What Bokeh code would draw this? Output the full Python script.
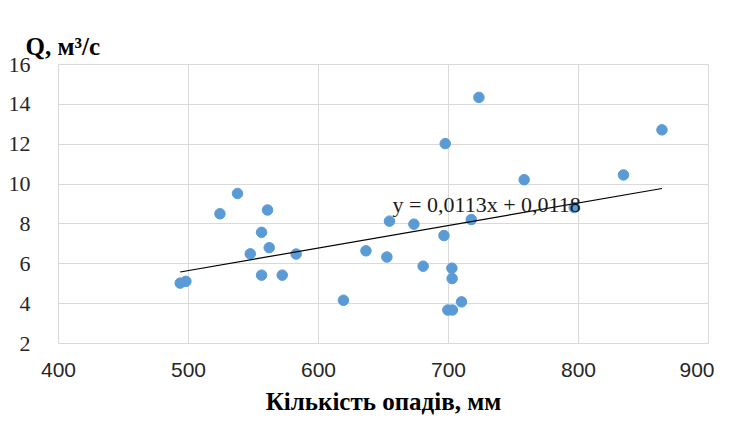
from bokeh.plotting import figure
from bokeh.models import Label, Range1d, FixedTicker, Title
from bokeh.embed import file_html
from bokeh.resources import INLINE

# Data
precip_mm = [493.6, 498.0, 537.7, 524.2, 560.8, 556.2, 562.1, 547.5, 582.8, 556.2,
             572.1, 619.2, 723.4, 697.5, 758.2, 654.6, 673.4, 717.5, 696.5, 636.5,
             652.6, 680.5, 702.6, 702.8, 710.0, 699.5, 703.0, 864.2, 834.6, 796.7]
flow_q = [5.03, 5.12, 9.53, 8.51, 8.70, 7.58, 6.81, 6.50, 6.49, 5.43,
          5.43, 4.17, 14.35, 12.03, 10.22, 8.14, 7.99, 8.22, 7.42, 6.65,
          6.34, 5.88, 5.78, 5.26, 4.09, 3.68, 3.68, 12.72, 10.46, 8.82]
trend_slope = 0.0113
trend_intercept = 0.0118
x_ticks = [400, 500, 600, 700, 800, 900]
y_ticks = [2, 4, 6, 8, 10, 12, 14, 16]
equation_text = "y = 0,0113x + 0,0118"
y_title = "Q, м³/с"
x_title = "Кількість опадів, мм"

# invisible spacer title nearest the frame, pushing the real title upward
spacer = Title(text=".", text_font_size="11px", text_alpha=0, standoff=0)

p = figure(width=714, height=417, output_backend="svg", toolbar_location=None,
           title=spacer,
           min_border_left=58, min_border_right=6, min_border_top=64, min_border_bottom=73,
           x_range=Range1d(400, 900), y_range=Range1d(2, 16))
p.add_layout(Title(text=y_title, align="left", offset=-33,
                   text_font="Liberation Serif", text_font_style="bold", text_font_size="25px",
                   text_color="black"), "above")
p.background_fill_color = "white"
p.border_fill_color = "white"
p.outline_line_color = "#d9d9d9"

p.xaxis.ticker = FixedTicker(ticks=x_ticks)
p.yaxis.ticker = FixedTicker(ticks=y_ticks)
for ax in (p.xaxis[0], p.yaxis[0]):
    ax.axis_line_color = None
    ax.major_tick_line_color = None
    ax.minor_tick_line_color = None
    ax.major_label_text_color = "#262626"
p.xaxis[0].major_label_text_font = "Liberation Sans"
p.xaxis[0].major_label_text_font_size = "21px"
p.xaxis[0].major_label_standoff = 13
p.xaxis[0].axis_label = x_title
p.xaxis[0].axis_label_standoff = 8
p.xaxis[0].axis_label_text_font = "Liberation Serif"
p.xaxis[0].axis_label_text_font_style = "bold"
p.xaxis[0].axis_label_text_font_size = "25px"
p.xaxis[0].axis_label_text_color = "black"
p.yaxis[0].major_label_text_font = "Liberation Serif"
p.yaxis[0].major_label_text_font_size = "22px"
p.yaxis[0].major_label_standoff = 22

p.xgrid.grid_line_color = "#d9d9d9"
p.ygrid.grid_line_color = "#d9d9d9"

p.scatter(precip_mm, flow_q, size=10.5, color="#5b9bd5", line_color="#5b9bd5")

xmin, xmax = min(precip_mm), max(precip_mm)
p.line([xmin, xmax], [trend_slope * xmin + trend_intercept, trend_slope * xmax + trend_intercept],
       line_color="black", line_width=1.2)

p.add_layout(Label(x=657, y=9.0, text=equation_text, text_font="Liberation Serif",
                   text_font_size="22px", text_color="#1a1a1a", text_baseline="alphabetic"))

open("out.html", "w").write(file_html(p, INLINE))
